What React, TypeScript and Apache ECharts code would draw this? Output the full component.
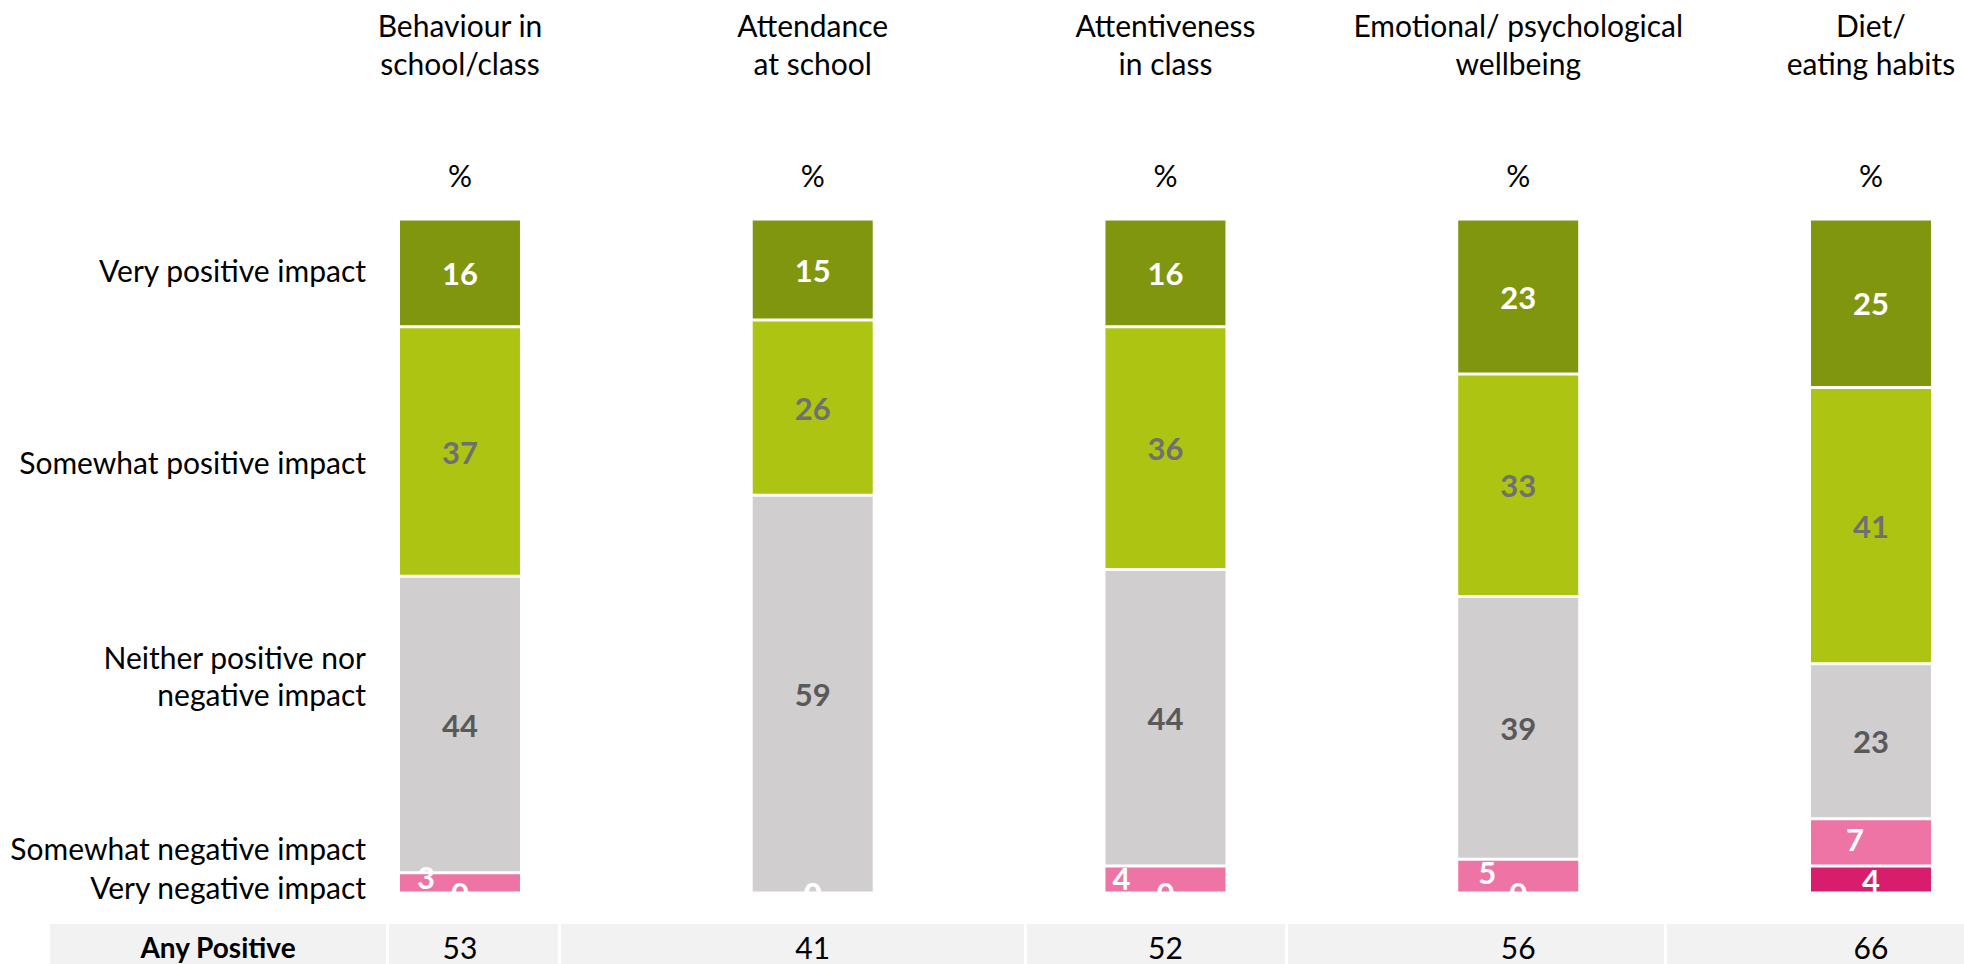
import React, { useEffect, useRef } from "react";
import * as echarts from "echarts";

const categories = [
  "Behaviour in\nschool/class",
  "Attendance\nat school",
  "Attentiveness\nin class",
  "Emotional/ psychological\nwellbeing",
  "Diet/\neating habits",
];
const veryPositive = [16, 15, 16, 23, 25];
const somewhatPositive = [37, 26, 36, 33, 41];
const neither = [44, 59, 44, 39, 23];
const somewhatNegative = [3, 0, 4, 5, 7];
const veryNegative = [0, 0, 0, 0, 4];
const anyPositive = [53, 41, 52, 56, 66];
const rowLabels = [
  "Very positive impact",
  "Somewhat positive impact",
  "Neither positive nor\nnegative impact",
  "Somewhat negative impact",
  "Very negative impact",
];

// style-only settings
const rowLabelY = [270, 462, 675, 848, 887];
const negLabelOffset = [
  [-34, -6],
  [0, 0],
  [-44, -2],
  [-31, -4],
  [-16, -3],
];
const FONT = "Lato, 'Liberation Sans', sans-serif";
const C_VP = "#81960F";
const C_SP = "#AEC412";
const C_NE = "#D0CECF";
const C_SN = "#EE74A6";
const C_VN = "#D81D6C";

export default function App() {
  const ref = useRef<HTMLDivElement>(null);
  useEffect(() => {
    if (!ref.current) return;
    const chart = echarts.init(ref.current, undefined, { renderer: "svg" });
    const labelBase = {
      show: true,
      position: "inside",
      fontFamily: FONT,
      fontWeight: "bold",
      fontSize: 31,
    };
    const mk = (name: string, data: number[], color: string, labelColor: string, extra?: any) => ({
      name,
      type: "bar",
      stack: "total",
      barWidth: 123,
      data: data.map((v, i) =>
        extra ? { value: v, label: { offset: extra[i] } } : v
      ),
      itemStyle: { color, borderColor: "#ffffff", borderWidth: 1.5 },
      label: { ...labelBase, color: labelColor },
    });
    const graphics: any[] = [];
    rowLabels.forEach((t, i) => {
      graphics.push({
        type: "text",
        x: 366,
        y: rowLabelY[i],
        style: {
          text: t,
          fill: "#000",
          font: `30px ${FONT}`,
          fontSize: 30,
          fontFamily: FONT,
          lineHeight: 37,
          textAlign: "right",
          textVerticalAlign: "middle",
          align: "right",
          verticalAlign: "middle",
        },
      });
    });
    graphics.push({
      type: "rect",
      z: -10,
      shape: { x: 50, y: 924, width: 2000, height: 42 },
      style: { fill: "#F2F2F2" },
    });
    [386, 558, 1024, 1285, 1664].forEach((x) =>
      graphics.push({
        type: "rect",
        z: -9,
        shape: { x, y: 924, width: 3, height: 42 },
        style: { fill: "#FFFFFF" },
      })
    );
    graphics.push({
      type: "text",
      x: 218,
      y: 947,
      style: {
        text: "Any Positive",
        fill: "#000",
        font: `bold 28px ${FONT}`,
        fontSize: 28,
        fontWeight: "bold",
        fontFamily: FONT,
        lineHeight: 28,
        textAlign: "center",
        textVerticalAlign: "middle",
        align: "center",
        verticalAlign: "middle",
      },
    });

    chart.setOption({
      animation: false,
      backgroundColor: "#ffffff",
      grid: { left: 283.6, top: 219, width: 1763.75, height: 674 },
      xAxis: [
        {
          type: "category",
          position: "top",
          data: categories.map((c) => c + "\n\n\n%"),
          axisLine: { show: false },
          axisTick: { show: false },
          axisLabel: {
            interval: 0,
            margin: 25,
            color: "#000",
            fontFamily: FONT,
            fontSize: 30,
            lineHeight: 37.5,
          },
        },
        {
          type: "category",
          position: "bottom",
          data: anyPositive.map(String),
          axisLine: { show: false },
          axisTick: { show: false },
          axisLabel: {
            interval: 0,
            margin: 40,
            color: "#000",
            fontFamily: FONT,
            fontSize: 30,
            lineHeight: 28,
          },
        },
      ],
      yAxis: { type: "value", min: 0, max: 100, show: false },
      series: [
        mk("Very negative impact", veryNegative, C_VN, "#ffffff"),
        mk("Somewhat negative impact", somewhatNegative, C_SN, "#ffffff", negLabelOffset),
        mk("Neither positive nor negative impact", neither, C_NE, "#595959"),
        mk("Somewhat positive impact", somewhatPositive, C_SP, "#707070"),
        mk("Very positive impact", veryPositive, C_VP, "#ffffff"),
      ],
      graphic: graphics,
    });
    return () => chart.dispose();
  }, []);
  return (
    <div
      ref={ref}
      style={{ position: "fixed", left: 0, top: 0, width: 2050, height: 964 }}
    />
  );
}
